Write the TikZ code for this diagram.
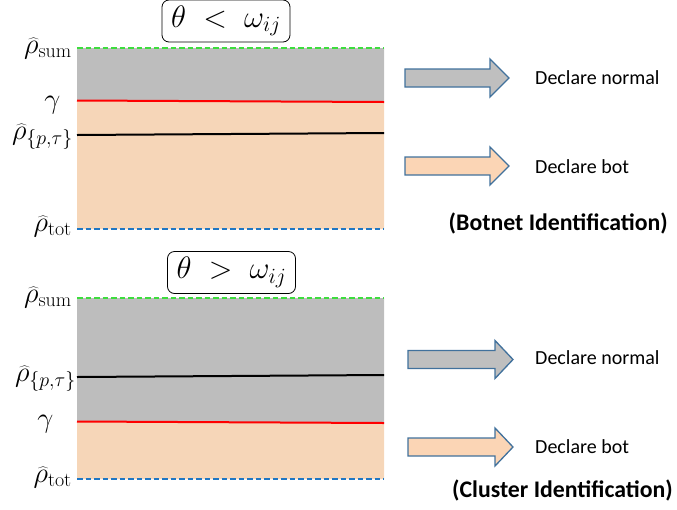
\RequirePackage{fix-cm}
\documentclass[tikz,border=0pt]{standalone}
\usepackage{fontspec}
\newfontfamily\calib{Carlito}
\definecolor{bandgray}{HTML}{BDBDBD}
\definecolor{bandpeach}{HTML}{F6D6B8}
\definecolor{arrowgray}{HTML}{BFBFBF}
\definecolor{arrowpeach}{HTML}{FBD5B5}
\definecolor{arrowedge}{HTML}{41719C}
\definecolor{sumgreen}{HTML}{3DDC3D}
\definecolor{totblue}{HTML}{1F77C4}
\tikzset{
  mathlabel/.style={inner sep=0pt, font=\fontsize{28.5}{34}\selectfont},
  titlebox/.style={draw=black, line width=0.8pt, rounded corners=7pt, fill=white,
    minimum width=128pt, minimum height=42pt, inner sep=0pt,
    font=\fontsize{31}{36}\selectfont},
  sumline/.style={draw=sumgreen, line width=2pt, dash pattern=on 5.5pt off 3pt},
  totline/.style={draw=totblue, line width=2pt, dash pattern=on 5.5pt off 3pt},
  gammaline/.style={draw=red, line width=2pt},
  rholine/.style={draw=black, line width=2pt},
  blockarrow/.style={draw=arrowedge, line width=1.3pt, line join=miter},
  decl/.style={anchor=west, inner sep=0pt, font=\calib\fontsize{20}{24}\selectfont},
  ident/.style={anchor=east, inner sep=0pt, font=\calib\bfseries\fontsize{23.8}{28}\selectfont}
}
% block arrow: #1 left end of the shaft, #2 start of the head, #3 tip (all on the axis)
\newcommand\blockarrowpath[3]{%
  ([yshift=-9pt]#1) -- ([yshift=-9pt]#2) -- ([yshift=-19pt]#2) -- (#3)
  -- ([yshift=19pt]#2) -- ([yshift=9pt]#2) -- ([yshift=9pt]#1) -- cycle}
\begin{document}
\begin{tikzpicture}[x=1pt,y=-1pt]
\useasboundingbox (0,0) rectangle (677,509);

% ---------- upper panel: theta < omega_ij ----------
\coordinate (s1l) at (77,48);   \coordinate (s1r) at (384,48);
\coordinate (g1l) at (77,100.5);\coordinate (g1r) at (384,102);
\coordinate (p1l) at (77,135);  \coordinate (p1r) at (384,133);
\coordinate (t1l) at (77,229);  \coordinate (t1r) at (384,229);
\fill[bandgray]  (s1l) -- (s1r) -- (g1r) -- (g1l) -- cycle;
\fill[bandpeach] (g1l) -- (g1r) -- (t1r) -- (t1l) -- cycle;
\draw[sumline]   (s1l) -- (s1r);
\draw[totline]   (t1l) -- (t1r);
\draw[gammaline] (g1l) -- (g1r);
\draw[rholine]   (p1l) -- (p1r);

\node[titlebox] (title1) at (226,21) {$\theta\;<\;\omega_{ij}$};

\node[mathlabel, anchor=base east] (lsum1) at (72,53)  {$\widehat{\rho}_{\mathrm{sum}}$};
\node[mathlabel, anchor=base]      (lgam1) at (52.5,108) {$\gamma$};
\node[mathlabel, anchor=base east] (lpt1)  at (73,139) {$\widehat{\rho}_{\{p,\tau\}}$};
\node[mathlabel, anchor=base east] (ltot1) at (72,231) {$\widehat{\rho}_{\mathrm{tot}}$};

\coordinate (a1nl) at (405,78);  \coordinate (a1nh) at (490,78);  \coordinate (a1nt) at (509,78);
\coordinate (a1bl) at (405,166); \coordinate (a1bh) at (490,166); \coordinate (a1bt) at (509,166);
\draw[blockarrow, fill=arrowgray]  \blockarrowpath{a1nl}{a1nh}{a1nt};
\draw[blockarrow, fill=arrowpeach] \blockarrowpath{a1bl}{a1bh}{a1bt};
\node[decl] (d1n) at (535,78)  {Declare normal};
\node[decl] (d1b) at (535,167) {Declare bot};
\node[ident] (id1) at (668,223) {(Botnet Identification)};

% ---------- lower panel: theta > omega_ij ----------
\coordinate (s2l) at (77,298);  \coordinate (s2r) at (384,298);
\coordinate (p2l) at (77,377);  \coordinate (p2r) at (384,375);
\coordinate (g2l) at (77,421.5);\coordinate (g2r) at (384,423);
\coordinate (t2l) at (77,479);  \coordinate (t2r) at (384,479);
\fill[bandgray]  (s2l) -- (s2r) -- (g2r) -- (g2l) -- cycle;
\fill[bandpeach] (g2l) -- (g2r) -- (t2r) -- (t2l) -- cycle;
\draw[sumline]   (s2l) -- (s2r);
\draw[totline]   (t2l) -- (t2r);
\draw[gammaline] (g2l) -- (g2r);
\draw[rholine]   (p2l) -- (p2r);

\node[titlebox] (title2) at (231.5,272.5) {$\theta\;>\;\omega_{ij}$};

\node[mathlabel, anchor=base east] (lsum2) at (72,302) {$\widehat{\rho}_{\mathrm{sum}}$};
\node[mathlabel, anchor=base east] (lpt2)  at (76,381) {$\widehat{\rho}_{\{p,\tau\}}$};
\node[mathlabel, anchor=base]      (lgam2) at (45.5,427) {$\gamma$};
\node[mathlabel, anchor=base east] (ltot2) at (72,482) {$\widehat{\rho}_{\mathrm{tot}}$};

\coordinate (a2nl) at (408,359.5); \coordinate (a2nh) at (495,359.5); \coordinate (a2nt) at (513,359.5);
\coordinate (a2bl) at (408,447);   \coordinate (a2bh) at (495,447);   \coordinate (a2bt) at (513,447);
\draw[blockarrow, fill=arrowgray]  \blockarrowpath{a2nl}{a2nh}{a2nt};
\draw[blockarrow, fill=arrowpeach] \blockarrowpath{a2bl}{a2bh}{a2bt};
\node[decl] (d2n) at (535,358) {Declare normal};
\node[decl] (d2b) at (535,447) {Declare bot};
\node[ident] (id2) at (673,490) {(Cluster Identification)};
\end{tikzpicture}
\end{document}
